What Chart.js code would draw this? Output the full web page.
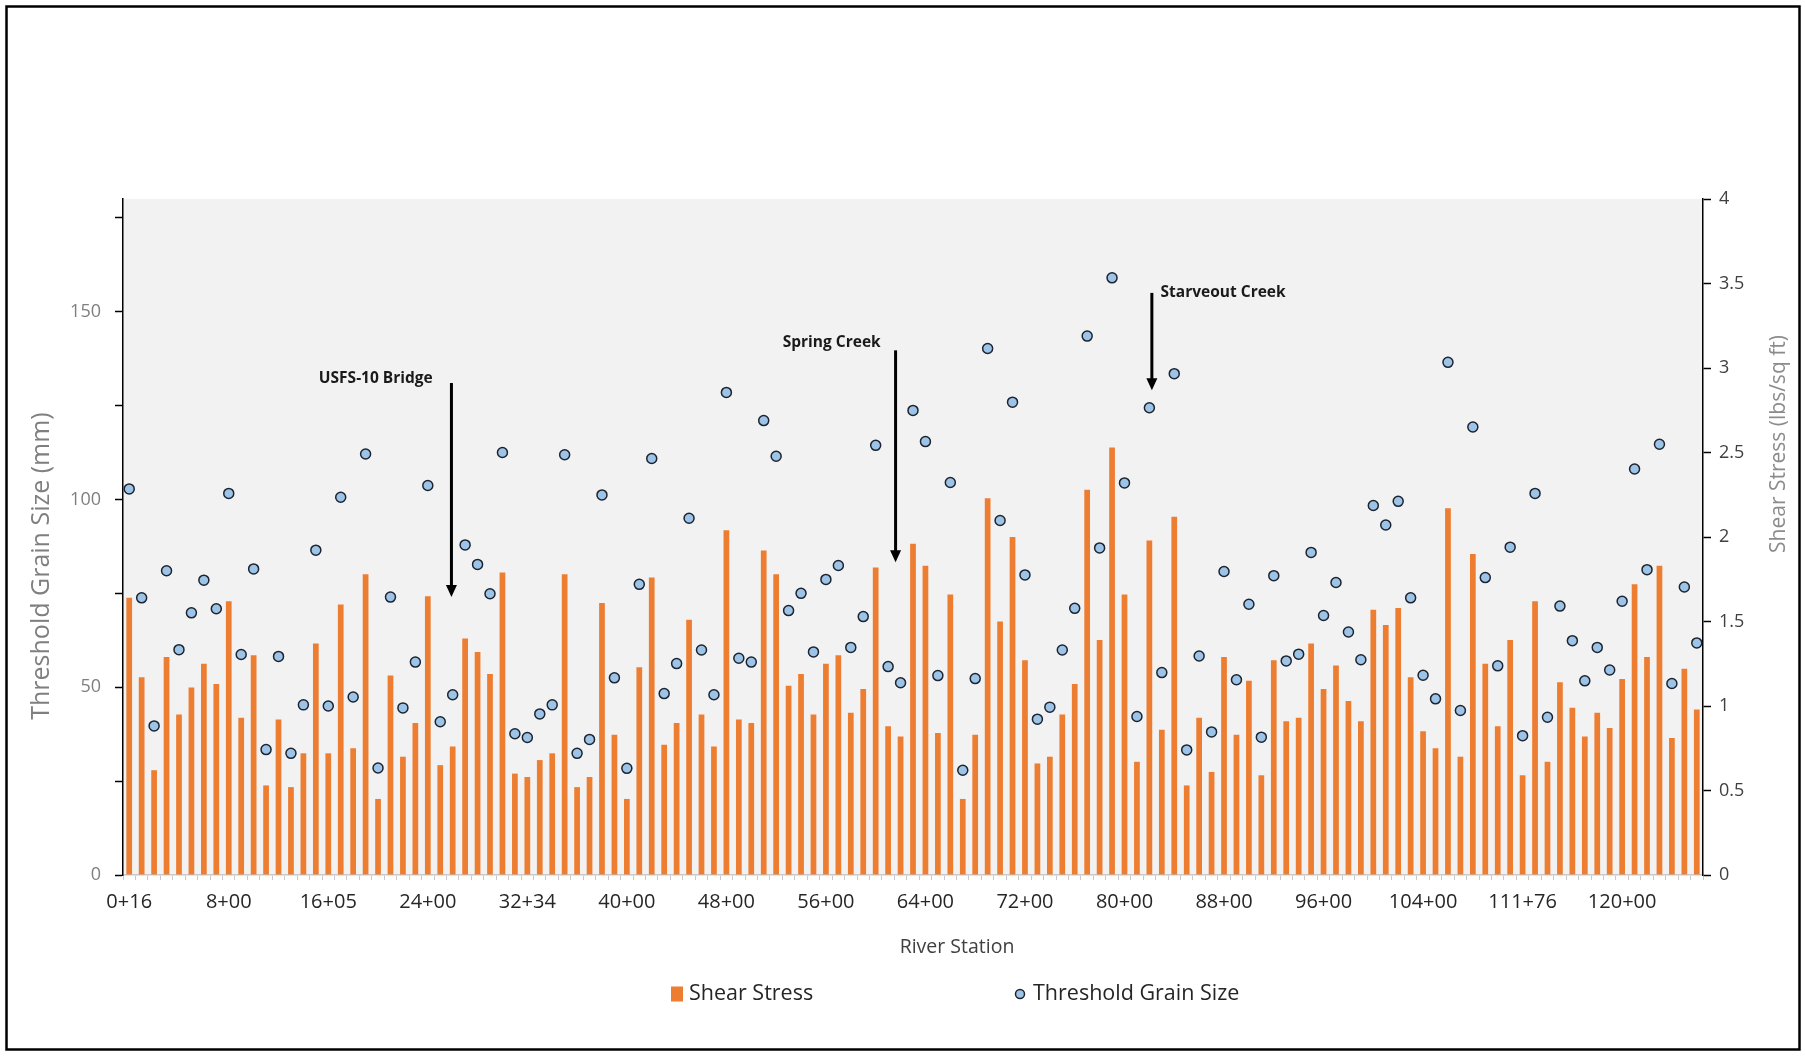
<!DOCTYPE html>
<html>
<head>
<meta charset="utf-8">
<script src="https://cdn.jsdelivr.net/npm/chart.js@4.4.1/dist/chart.umd.min.js"></script>
<style>
  html, body { margin: 0; padding: 0; background: #fff; }
</style>
</head>
<body>
<canvas id="chart" width="1805" height="1056"></canvas>
<script>
// river stations (one bar / one point each)
const stations = [
  '0+16','1+00','2+00','3+00','4+00','5+00','6+00','7+00','8+00','9+00',
  '10+00','11+00','12+00','13+00','14+00','15+00','16+05','17+00','18+00','19+00',
  '20+00','21+00','22+00','23+00','24+00','25+00','26+00','27+00','28+00','29+00',
  '30+00','31+00','32+34','33+00','34+00','35+00','36+00','37+00','38+00','39+00',
  '40+00','41+00','42+00','43+00','44+00','45+00','46+00','47+00','48+00','49+00',
  '50+00','51+00','52+00','53+00','54+00','55+00','56+00','57+00','58+00','59+00',
  '60+00','61+00','62+00','63+00','64+00','65+00','66+00','67+00','68+00','69+00',
  '70+00','71+00','72+00','73+00','74+00','75+00','76+00','77+00','78+00','79+00',
  '80+00','81+00','82+00','83+00','84+00','85+00','86+00','87+00','88+00','89+00',
  '90+00','91+00','92+00','93+00','94+00','95+00','96+00','97+00','98+00','99+00',
  '100+00','101+00','102+00','103+00','104+00','105+00','106+00','107+00','108+00','109+00',
  '110+00','111+00','111+76','113+00','114+00','115+00','116+00','117+00','118+00','119+00',
  '120+00','121+00','122+00','123+00','124+00','125+00','126+00'
];

// stations that get a label on the axis
const shownStations = ['0+16','8+00','16+05','24+00','32+34','40+00','48+00','56+00',
  '64+00','72+00','80+00','88+00','96+00','104+00','111+76','120+00'];

// shear stress, lbs/sq ft (bars, right axis)
const shearStress = [
  1.64,1.17,0.62,1.29,0.95,1.11,1.25,1.13,1.62,0.93,
  1.30,0.53,0.92,0.52,0.72,1.37,0.72,1.60,0.75,1.78,
  0.45,1.18,0.70,0.90,1.65,0.65,0.76,1.40,1.32,1.19,
  1.79,0.60,0.58,0.68,0.72,1.78,0.52,0.58,1.61,0.83,
  0.45,1.23,1.76,0.77,0.90,1.51,0.95,0.76,2.04,0.92,
  0.90,1.92,1.78,1.12,1.19,0.95,1.25,1.30,0.96,1.10,
  1.82,0.88,0.82,1.96,1.83,0.84,1.66,0.45,0.83,2.23,
  1.50,2.00,1.27,0.66,0.70,0.95,1.13,2.28,1.39,2.53,
  1.66,0.67,1.98,0.86,2.12,0.53,0.93,0.61,1.29,0.83,
  1.15,0.59,1.27,0.91,0.93,1.37,1.10,1.24,1.03,0.91,
  1.57,1.48,1.58,1.17,0.85,0.75,2.17,0.70,1.90,1.25,
  0.88,1.39,0.59,1.62,0.67,1.14,0.99,0.82,0.96,0.87,
  1.16,1.72,1.29,1.83,0.81,1.22,0.98
];

// threshold grain size, mm (points, left axis)
const grainSize = [
  102.8,73.8,39.7,81,60,69.8,78.5,70.9,101.6,58.7,
  81.5,33.4,58.2,32.4,45.3,86.5,45,100.6,47.4,112.1,
  28.5,74,44.5,56.7,103.7,40.8,48,87.9,82.7,74.9,
  112.5,37.6,36.6,42.9,45.3,111.9,32.4,36.1,101.2,52.5,
  28.4,77.4,110.9,48.3,56.3,95,59.9,48,128.5,57.7,
  56.7,121,111.5,70.4,75,59.4,78.7,82.4,60.6,68.8,
  114.4,55.5,51.2,123.7,115.4,53.1,104.5,27.9,52.3,140.2,
  94.4,125.9,79.9,41.5,44.7,59.9,71,143.5,87.1,159,
  104.4,42.2,124.4,53.9,133.5,33.3,58.3,38.1,80.8,52,
  72.1,36.7,79.7,57,58.8,85.9,69.1,77.9,64.7,57.3,
  98.4,93.2,99.5,73.8,53.2,46.9,136.5,43.8,119.3,79.2,
  55.7,87.3,37.1,101.6,42,71.6,62.4,51.7,60.6,54.6,
  72.9,108.1,81.3,114.7,51,76.7,61.8
];

const grainTickLabels = [0, 50, 100, 150];
const shearTickLabels = [0, 0.5, 1, 1.5, 2, 2.5, 3, 3.5, 4];

// callouts: x in station index, y in mm (left axis)
const callouts = [
  { text: 'USFS-10 Bridge', at: 25.9, top: 131, tip: 74, textAt: 24.4, textY: 132.1, align: 'right' },
  { text: 'Spring Creek', at: 61.6, top: 139.7, tip: 83.3, textAt: 60.4, textY: 141.7, align: 'right' },
  { text: 'Starveout Creek', at: 82.2, top: 155, tip: 129.1, textAt: 82.9, textY: 155.2, align: 'left' }
];

Chart.defaults.font.family = "'Open Sans', sans-serif";
Chart.defaults.font.size = 18;

const backdrop = {
  id: 'backdrop',
  beforeDraw(chart) {
    const {ctx, chartArea: a} = chart;
    ctx.save();
    ctx.fillStyle = '#fff';
    ctx.fillRect(0, 0, chart.width, chart.height);
    ctx.fillStyle = '#f2f2f2';
    ctx.fillRect(a.left, a.top, a.right - a.left, a.bottom - a.top);
    ctx.restore();
  },
  afterDraw(chart) {
    const ctx = chart.ctx;
    ctx.save();
    ctx.strokeStyle = '#000';
    ctx.lineWidth = 2.5;
    ctx.strokeRect(6.5, 6.5, 1793, 1043);
    ctx.restore();
  }
};

// axis titles placed like the original (both vertical ones read bottom-to-top)
const axisTitles = {
  id: 'axisTitles',
  afterDraw(chart) {
    const ctx = chart.ctx;
    const put = (text, x, y, size, color, rot) => {
      ctx.save();
      ctx.translate(x, y);
      ctx.rotate(rot);
      ctx.font = `${size}px 'Open Sans'`;
      ctx.fillStyle = color;
      ctx.textAlign = 'center';
      ctx.textBaseline = 'middle';
      ctx.fillText(text, 0, 0);
      ctx.restore();
    };
    put('Threshold Grain Size (mm)', 42, 566, 25, '#7f7f7f', -Math.PI / 2);
    put('Shear Stress (lbs/sq ft)', 1779, 444, 21, '#8c8c8c', -Math.PI / 2);
    put('River Station', 957, 947, 19.5, '#404040', 0);
  }
};

const arrows = {
  id: 'arrows',
  afterDatasetsDraw(chart) {
    const {ctx, scales: {x, y}} = chart;
    ctx.save();
    callouts.forEach(c => {
      const px = x.getPixelForValue(c.at);
      const y0 = y.getPixelForValue(c.top);
      const y1 = y.getPixelForValue(c.tip);
      ctx.strokeStyle = '#000';
      ctx.fillStyle = '#000';
      ctx.lineWidth = 3;
      ctx.beginPath();
      ctx.moveTo(px, y0);
      ctx.lineTo(px, y1 - 10);
      ctx.stroke();
      ctx.beginPath();
      ctx.moveTo(px - 5.5, y1 - 12);
      ctx.lineTo(px + 5.5, y1 - 12);
      ctx.lineTo(px, y1);
      ctx.closePath();
      ctx.fill();
      ctx.font = "bold 15.5px 'Open Sans'";
      ctx.textBaseline = 'middle';
      ctx.textAlign = c.align;
      ctx.fillStyle = '#1a1a1a';
      ctx.fillText(c.text, x.getPixelForValue(c.textAt), y.getPixelForValue(c.textY));
    });
    ctx.restore();
  }
};

const legendRow = {
  id: 'legendRow',
  afterDraw(chart) {
    const ctx = chart.ctx;
    const [pts, bars] = chart.data.datasets;
    const cy = 994;
    ctx.save();
    ctx.font = "21.5px 'Open Sans'";
    ctx.textBaseline = 'middle';
    ctx.textAlign = 'left';
    ctx.fillStyle = bars.backgroundColor;
    ctx.fillRect(671, cy - 7.5, 12, 15);
    ctx.fillStyle = '#262626';
    ctx.fillText(bars.label, 689, cy);
    ctx.beginPath();
    ctx.arc(1020, cy, 4.5, 0, Math.PI * 2);
    ctx.fillStyle = pts.pointBackgroundColor;
    ctx.fill();
    ctx.lineWidth = 1.5;
    ctx.strokeStyle = pts.pointBorderColor;
    ctx.stroke();
    ctx.fillStyle = '#262626';
    ctx.fillText(pts.label, 1033, cy);
    ctx.restore();
  }
};

new Chart(document.getElementById('chart'), {
  type: 'bar',
  data: {
    labels: stations,
    datasets: [
      {
        type: 'line',
        label: 'Threshold Grain Size',
        data: grainSize,
        yAxisID: 'y',
        showLine: false,
        pointRadius: 5,
        pointBackgroundColor: '#9dc3e6',
        pointBorderColor: '#1b2430',
        pointBorderWidth: 1.5,
        order: 0
      },
      {
        type: 'bar',
        label: 'Shear Stress',
        data: shearStress,
        yAxisID: 'y1',
        backgroundColor: '#ed7d31',
        barPercentage: 0.46,
        categoryPercentage: 1,
        order: 1
      }
    ]
  },
  options: {
    responsive: false,
    animation: false,
    devicePixelRatio: 1,
    layout: { padding: { left: 0, right: 0, top: 199, bottom: 91 } },
    plugins: {
      legend: { display: false },
      tooltip: { enabled: false }
    },
    scales: {
      x: {
        offset: true,
        grid: { display: true, offset: true, drawOnChartArea: false, drawTicks: true, tickLength: 5, color: '#c9c9c9', tickColor: '#c9c9c9' },
        border: { display: true, color: '#c9c9c9', width: 1.5 },
        ticks: {
          autoSkip: false, maxRotation: 0, minRotation: 0, padding: 10, color: '#262626',
          font: { size: 20 },
          callback(v) {
            const s = this.getLabelForValue(v);
            return shownStations.includes(s) ? s : '';
          }
        },
        afterFit(scale) { scale.height = 90; }
      },
      y: {
        position: 'left',
        min: 0, max: 180,
        ticks: {
          stepSize: 25, includeBounds: false, padding: 14, color: '#7f7f7f',
          callback: v => grainTickLabels.includes(v) ? v : ''
        },
        grid: { drawOnChartArea: false, drawTicks: true, tickLength: 8, tickColor: '#000', tickWidth: 1.5 },
        border: { color: '#000', width: 1.5 },
        afterFit(scale) { scale.width = 123; }
      },
      y1: {
        position: 'right',
        min: 0, max: 4,
        ticks: {
          stepSize: 0.5, padding: 8, color: '#404040',
          callback: v => shearTickLabels.includes(v) ? v : ''
        },
        grid: { drawOnChartArea: false, drawTicks: true, tickLength: 8, tickColor: '#000', tickWidth: 1.5 },
        border: { color: '#000', width: 1.5 },
        afterFit(scale) { scale.width = 102; }
      }
    }
  },
  plugins: [backdrop, axisTitles, arrows, legendRow]
});
</script>
</body>
</html>
